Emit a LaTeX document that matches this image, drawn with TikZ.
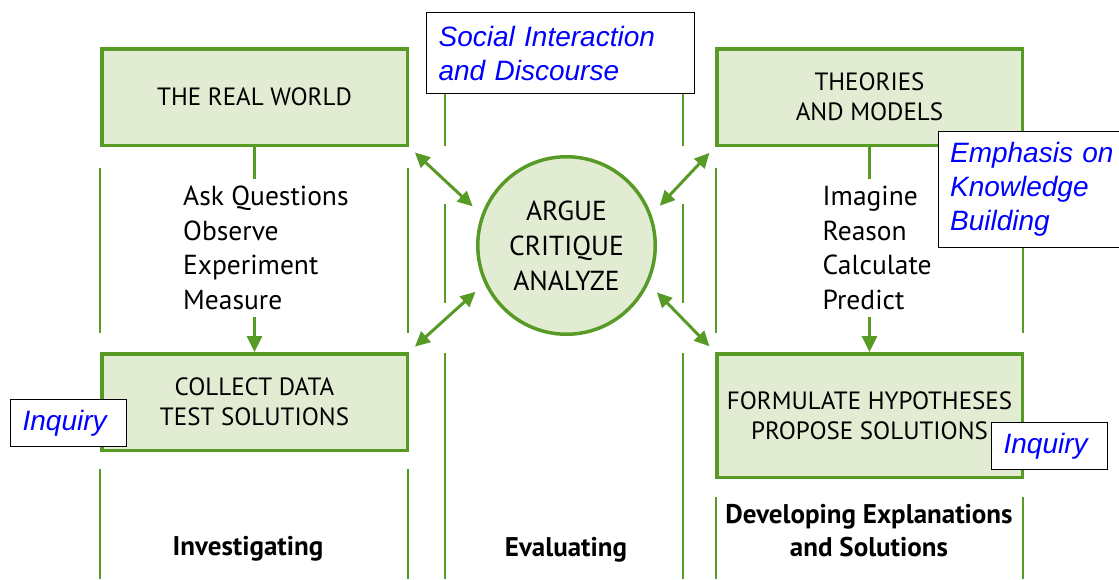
\documentclass[tikz,border=0pt]{standalone}
\usepackage{fontspec}
\setmainfont{PT Sans}
\newfontfamily\notefont{Liberation Sans}
\usetikzlibrary{arrows.meta, positioning}
\definecolor{leaf}{RGB}{88,154,38}
\definecolor{leaffill}{RGB}{226,236,210}

\begin{document}
\begin{tikzpicture}[
    x=1pt, y=-1pt,
    stage/.style={rectangle, draw=leaf, line width=3.5pt, fill=leaffill, minimum width=305.5pt, minimum height=96.5pt, align=center, font=\fontsize{25}{30}\selectfont},
    hub/.style={circle, draw=leaf, line width=3.5pt, fill=leaffill, minimum size=177.5pt, align=center, font=\fontsize{27.5}{35}\selectfont},
    note/.style={rectangle, draw=black, line width=1.2pt, fill=white, anchor=north west, inner xsep=12pt, inner ysep=0pt, align=left, text=blue, font=\notefont\itshape\fontsize{28}{34}\selectfont},
    steps/.style={anchor=north west, align=left, inner sep=7pt, font=\fontsize{27.5}{34.5}\selectfont},
    phase/.style={align=center, font=\bfseries\fontsize{27}{33}\selectfont},
    column/.style={leaf, line width=1.2pt},
    stub/.style={leaf, line width=3pt},
    flow/.style={leaf, line width=3pt, -{Triangle[length=16pt, width=15pt]}},
    link/.style={leaf, line width=3pt, {Triangle[length=15pt, width=14pt]}-{Triangle[length=15pt, width=14pt]}, shorten <=8pt, shorten >=12pt}
]
\useasboundingbox (0,0) rectangle (1119,579);

% Column rules
\draw[column] (100,168) -- (100,333) (100,469) -- (100,579);
\draw[column] (408,168) -- (408,333) (408,469) -- (408,579);
\draw[column] (445,93) -- (445,146) (445,204) -- (445,303) (445,353) -- (445,579);
\draw[column] (683,93) -- (683,146) (683,204) -- (683,303) (683,353) -- (683,579);
\draw[column] (716,168) -- (716,333) (716,497) -- (716,579);
\draw[column] (1023,168) -- (1023,333) (1023,497) -- (1023,579);

% Practice boxes
\node[stage] (world) at (254.5,97) {THE REAL WORLD};
\node[stage, below=205pt of world] (collect) {COLLECT DATA\\TEST SOLUTIONS};
\node[stage, right=306pt of world] (theories) {THEORIES\\AND MODELS};
\node[stage, minimum height=123.5pt, below=205pt of theories] (formulate) {FORMULATE HYPOTHESES\\PROPOSE SOLUTIONS};

% Centre
\node[hub] (circ) at (566.5,245.5) {ARGUE\\CRITIQUE\\ANALYZE};

% Activities
\node[steps] (observe) at (176,179) {Ask Questions\\Observe\\Experiment\\Measure};
\node[steps] (reason) at (815.5,179) {Imagine\\Reason\\Calculate\\Predict};

\draw[stub] (world.south) -- (world.south |- observe.north);
\draw[flow] (world.south |- observe.south) -- (collect.north);
\draw[stub] (theories.south) -- (theories.south |- reason.north);
\draw[flow] (theories.south |- reason.south) -- (formulate.north);

% Links to the centre
\draw[link] (world.south east) -- (circ.160);
\draw[link] (collect.north east) -- (circ.205);
\draw[link] (theories.south west) -- (circ.20);
\draw[link] (formulate.north west) -- (circ.335);

% Notes
\node[note, text width=244pt, minimum height=81pt] (social) at (426,12) {Social Interaction\\and Discourse};
\node[note, text width=170pt, minimum height=116pt] (emphasis) at (937.5,131) {Emphasis on\\Knowledge\\Building};
\node[note, text width=92pt, minimum height=47pt] (inqleft) at (10,399) {Inquiry};
\node[note, text width=92pt, minimum height=47pt] (inqright) at (991,422) {Inquiry};

% Phases
\node[phase] (investigate) at (248,549) {Investigating};
\node[phase] (evaluate) at (566,550) {Evaluating};
\node[phase] (explain) at (869,531) {Developing Explanations\\and Solutions};

\end{tikzpicture}
\end{document}
